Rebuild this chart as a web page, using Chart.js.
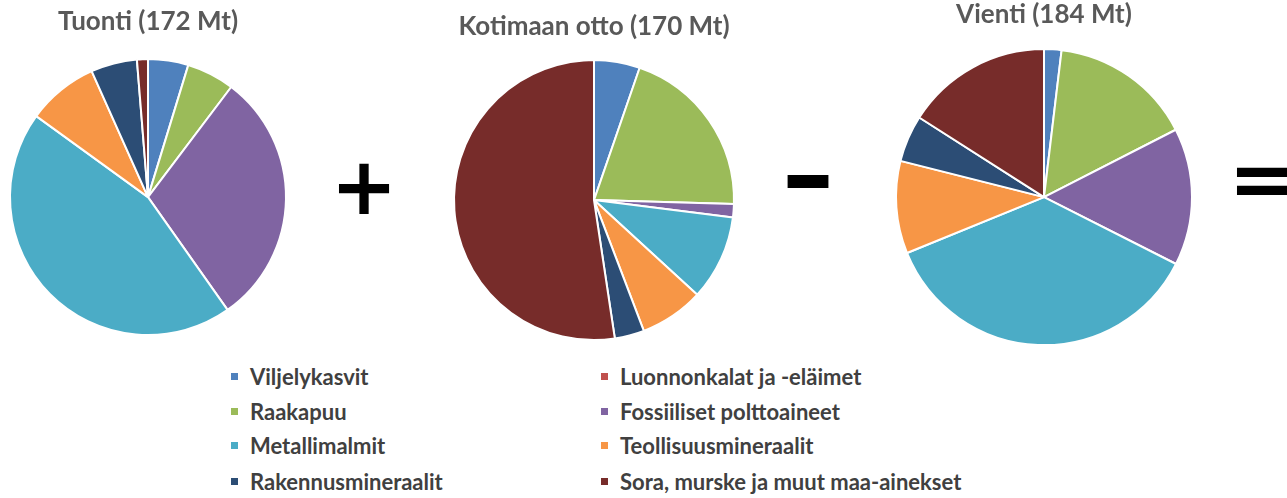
<!DOCTYPE html>
<html>
<head>
<meta charset="utf-8">
<script src="https://cdn.jsdelivr.net/npm/chart.js@4.4.0/dist/chart.umd.min.js"></script>
<style>
  html, body { margin: 0; padding: 0; background: #fff; }
  body { width: 1287px; height: 498px; position: relative; overflow: hidden; font-family: Lato, "Open Sans", sans-serif; }
  canvas { position: absolute; }
  .sign { position: absolute; font-family: "DejaVu Sans", sans-serif; font-weight: bold; color: #000; line-height: 1; transform: translate(-50%, -50%); }
  .item { position: absolute; display: flex; align-items: center; font-weight: bold; font-size: 22px; color: #404040; white-space: nowrap; height: 24px; }
  .box { width: 7px; height: 7px; margin-right: 12px; }
</style>
</head>
<body>
<canvas id="tuonti" width="286" height="341" style="left:5px; top:6px"></canvas>
<canvas id="otto" width="300" height="337" style="left:444px; top:11px"></canvas>
<canvas id="vienti" width="306" height="355" style="left:891px; top:-1px"></canvas>

<span class="sign" style="left:364px; top:187px; font-size:80px">+</span>
<span class="sign" style="left:808px; top:174px; font-size:104px">–</span>
<span class="sign" style="left:1262px; top:180px; font-size:80px">=</span>

<div id="legend"></div>

<script>
// categories in the order Excel lists them (legend is row-major, 2 columns)
const categories = [
  'Viljelykasvit', 'Luonnonkalat ja -eläimet',
  'Raakapuu', 'Fossiiliset polttoaineet',
  'Metallimalmit', 'Teollisuusmineraalit',
  'Rakennusmineraalit', 'Sora, murske ja muut maa-ainekset'
]
const colors = ['#4F81BD', '#C0504D', '#9BBB59', '#8064A2', '#4BACC6', '#F79646', '#2C4D75', '#772C2A']

// million tonnes
const tuonti = [8.1, 0, 9.6, 51.4, 76.9, 14.3, 9.3, 2.2]
const otto = [9.0, 0, 34.3, 2.6, 16.7, 12.6, 5.8, 89.1]
const vienti = [3.5, 0, 28.7, 27.6, 67.0, 18.6, 9.4, 29.4]

const titles = ['Tuonti (172 Mt)', 'Kotimaan otto (170 Mt)', 'Vienti (184 Mt)']

function makePie(id, title, values, radius) {
    const ctx = document.getElementById(id).getContext('2d')
    return new Chart(ctx, {
        type: 'pie',
        data: {
            labels: categories,
            datasets: [{
                data: values,
                backgroundColor: colors,
                borderColor: '#fff',
                borderWidth: 2,
                hoverOffset: 0,
                radius: radius
            }]
        },
        options: {
            responsive: false,
            animation: false,
            events: [],
            layout: { padding: 0 },
            plugins: {
                legend: { display: false },
                tooltip: { enabled: false },
                title: {
                    display: true,
                    text: title,
                    color: '#595959',
                    font: { family: 'Lato', size: 26, weight: 'bold' },
                    padding: { top: 0, bottom: 10 }
                }
            }
        }
    })
}

makePie('tuonti', titles[0], tuonti, 138)
makePie('otto', titles[1], otto, 140)
makePie('vienti', titles[2], vienti, 148)

// Legend built from the same arrays
const legendCols = [231, 601]
const legendRows = [364, 399, 433, 469]
const legend = document.getElementById('legend')
categories.forEach((label, i) => {
    const item = document.createElement('div')
    item.className = 'item'
    item.style.left = legendCols[i % 2] + 'px'
    item.style.top = legendRows[Math.floor(i / 2)] + 'px'
    const box = document.createElement('span')
    box.className = 'box'
    box.style.background = colors[i]
    const text = document.createElement('span')
    text.textContent = label
    item.appendChild(box)
    item.appendChild(text)
    legend.appendChild(item)
})
</script>
</body>
</html>
